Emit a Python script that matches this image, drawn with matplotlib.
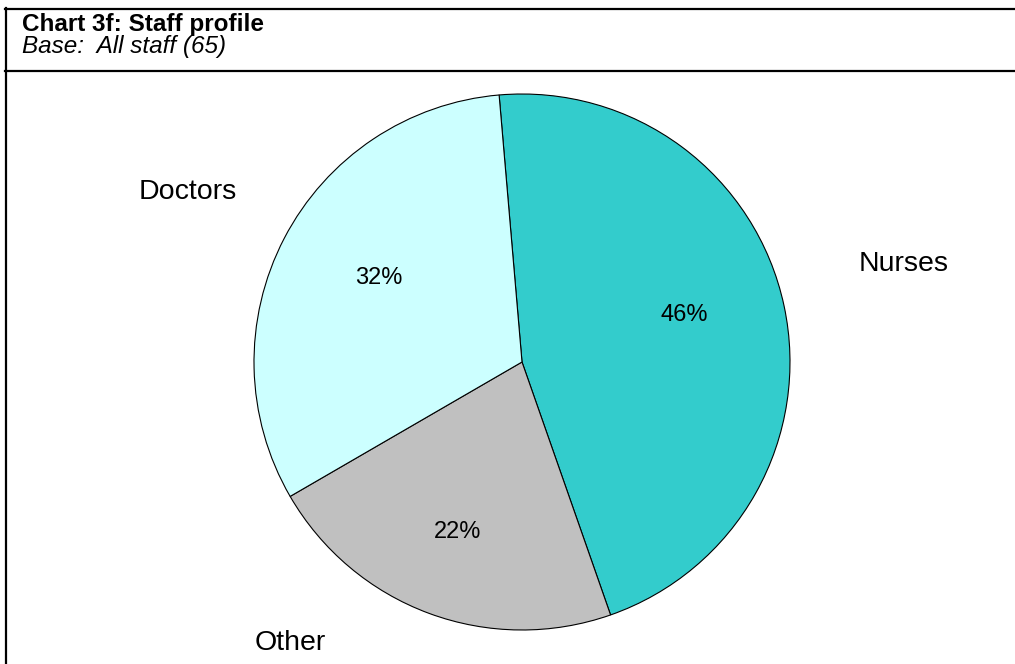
import numpy as np
import matplotlib
matplotlib.use("Agg")
import matplotlib.pyplot as plt
from matplotlib.lines import Line2D
from matplotlib import font_manager as fm

plt.rcParams['font.family'] = ['Liberation Sans', 'DejaVu Sans']

# Staff profile data (percent of all staff)
categories = ["Nurses", "Other", "Doctors"]
shares = [46, 22, 32]
colors = ["#33CCCC", "#C0C0C0", "#CCFFFF"]
title = "Chart 3f: Staff profile"
subtitle = "Base:  All staff (65)"


def sans_font(weight="normal", style="normal", size=12):
    """Pick the regular-width Liberation Sans face (not the Narrow one)."""
    want_bold = weight == "bold"
    want_italic = style == "italic"
    for f in fm.fontManager.ttflist:
        if f.name != "Liberation Sans" or "Narrow" in f.fname:
            continue
        is_bold = f.weight in ("bold", 700) or "Bold" in f.fname
        is_italic = f.style == "italic" or "Italic" in f.fname
        if is_bold == want_bold and is_italic == want_italic:
            return fm.FontProperties(fname=f.fname, size=size)
    return fm.FontProperties(family="Liberation Sans", weight=weight,
                             style=style, size=size)


W, H = 1015, 664
fig = plt.figure(figsize=(W / 100, H / 100), dpi=100)

# frame lines around the title block and chart area
def hline(y, x0, x1):
    fig.add_artist(Line2D([x0 / W, x1 / W], [1 - y / H, 1 - y / H],
                          color="black", lw=1.6, transform=fig.transFigure))

def vline(x, y0, y1):
    fig.add_artist(Line2D([x / W, x / W], [1 - y0 / H, 1 - y1 / H],
                          color="black", lw=1.6, transform=fig.transFigure))

hline(8.5, 5, W)
hline(71, 5, W)
vline(6, 8, H)

fig.text(22 / W, 1 - 31 / H, title,
         fontproperties=sans_font("bold", "normal", 17.5),
         ha="left", va="baseline")
fig.text(22 / W, 1 - 52.5 / H, subtitle,
         fontproperties=sans_font("normal", "italic", 17.5),
         ha="left", va="baseline")

# pie axes: square in pixels, centred on the pie centre
cx, cy, R = 522, 362, 268
ax = fig.add_axes([(cx - R) / W, (H - cy - R) / H, 2 * R / W, 2 * R / H])
ax.set_axis_off()

wedges, texts, autotexts = ax.pie(
    shares, labels=categories, colors=colors, startangle=94.9,
    counterclock=False, autopct="%d%%", pctdistance=0.65, labeldistance=1.4,
    wedgeprops=dict(edgecolor="black", linewidth=0.8),
)
ax.set_xlim(-1, 1)
ax.set_ylim(-1, 1)

# label placement (angle in degrees, radius in pie units)
label_polar = [(14.4, 1.47), (-129.5, 1.36), (153.0, 1.40)]
pct_polar = [(16.0, 0.63), (-110.8, 0.68), (149.7, 0.62)]

for t, (a, r) in zip(texts, label_polar):
    t.set_position((r * np.cos(np.radians(a)), r * np.sin(np.radians(a))))
    t.set_ha("center"); t.set_va("center")
    t.set_fontproperties(sans_font("normal", "normal", 20.5))
for t, (a, r) in zip(autotexts, pct_polar):
    t.set_position((r * np.cos(np.radians(a)), r * np.sin(np.radians(a))))
    t.set_ha("center"); t.set_va("center")
    t.set_fontproperties(sans_font("normal", "normal", 17))

fig.savefig("out.png", dpi=100)
